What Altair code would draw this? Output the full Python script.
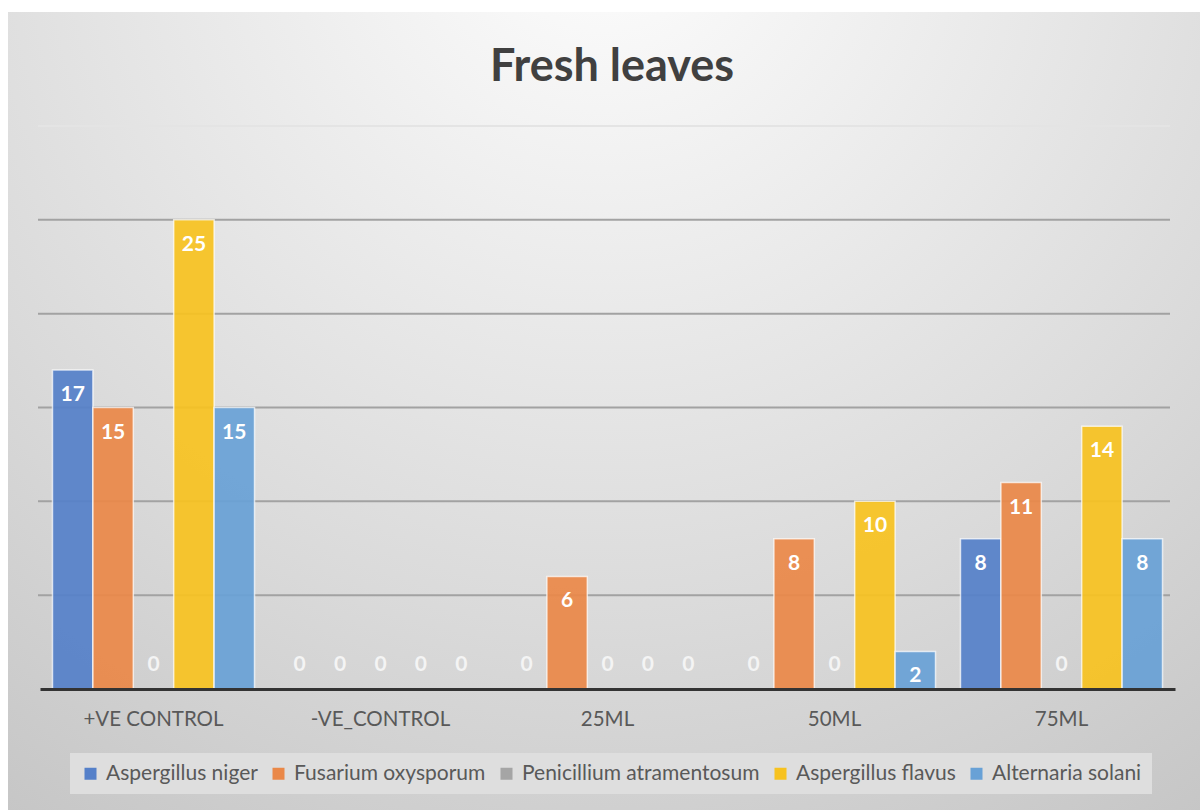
import altair as alt
import pandas as pd

title_text = ["Fresh leaves"]
categories = ["+VE CONTROL", "-VE_CONTROL", "25ML", "50ML", "75ML"]
series = ["Aspergillus niger", "Fusarium oxysporum", "Penicillium atramentosum",
          "Aspergillus flavus", "Alternaria solani"]
aspergillus_niger = [17, 0, 0, 0, 8]
fusarium_oxysporum = [15, 0, 6, 8, 11]
penicillium_atramentosum = [0, 0, 0, 0, 0]
aspergillus_flavus = [25, 0, 0, 10, 14]
alternaria_solani = [15, 0, 0, 2, 8]
grid_values = [5, 10, 15, 20, 25, 30]
colors = ["#5580C9", "#EA8848", "#A5A5A5", "#F7C21F", "#68A1D6"]

values = [aspergillus_niger, fusarium_oxysporum, penicillium_atramentosum,
          aspergillus_flavus, alternaria_solani]
rows = []
for s, vals in zip(series, values):
    for c, v in zip(categories, vals):
        rows.append({"category": c, "series": s, "value": v})
df = pd.DataFrame(rows)
grid_df = pd.DataFrame({"value": grid_values})

W, H = 1135, 563
PL, PT, PR, PB = 40, 126, 25, 121

xscale = alt.Scale(paddingInner=0.11, paddingOuter=0.055)
xaxis = alt.Axis(labelFontSize=20.5, labelColor="#595959", labelFont="Lato",
                 ticks=False, labelPadding=20, domainColor="#333333",
                 domainWidth=3, labelAngle=0, zindex=1, title=None)
xenc = alt.X("category:N", sort=categories, title=None, scale=xscale, axis=xaxis)
yenc = alt.Y("value:Q", scale=alt.Scale(domain=[0, 30], nice=False), axis=None)
xoff = alt.XOffset("series:N", sort=series, scale=alt.Scale(domain=series))

bg = alt.Chart(pd.DataFrame({"a": [0]})).mark_rect(
    color={
        "gradient": "radial",
        "x1": 0.5, "y1": 0.08, "r1": 0,
        "x2": 0.5, "y2": 0.08, "r2": 1.0,
        "stops": [
            {"offset": 0, "color": "#fefefe"},
            {"offset": 0.3, "color": "#ececec"},
            {"offset": 0.6, "color": "#dadada"},
            {"offset": 1, "color": "#c0c0c0"},
        ],
    },
).encode(
    x=alt.value(8 - PL), x2=alt.value(W + PR),
    y=alt.value(12 - PT), y2=alt.value(H + PB),
)

title = alt.Chart(pd.DataFrame({"t": title_text})).mark_text(
    font="Lato", fontWeight="bold", fontSize=45, color="#404040",
    baseline="alphabetic", align="center",
).encode(
    text="t:N", x=alt.value(572), y=alt.value(-45),
)

grid = alt.Chart(grid_df).mark_rule(strokeWidth=2).encode(
    y=yenc,
    x=alt.value(-2), x2=alt.value(W - 5),
    color=alt.condition("datum.value == 30", alt.value("#e4e4e4"), alt.value("#a2a2a2")),
)

bars = alt.Chart(df).transform_filter("datum.value > 0").mark_bar(
    stroke="white", strokeWidth=1.5, strokeOpacity=0.7, fillOpacity=0.92
).encode(
    x=xenc,
    xOffset=xoff,
    y=yenc,
    color=alt.Color("series:N", sort=series,
                    scale=alt.Scale(domain=series, range=colors),
                    legend=alt.Legend(
                        title=None, orient="none", direction="horizontal",
                        legendX=30, legendY=627,
                        symbolType="square", symbolSize=144, symbolStrokeWidth=0,
                        labelFontSize=21, labelFont="Lato", labelColor="#595959",
                        labelOffset=5, columnPadding=10, padding=10,
                        fillColor="#dedede", labelLimit=400,
                    )),
)

labels_pos = alt.Chart(df).transform_filter("datum.value > 0").mark_text(
    color="white", fontWeight="bold", font="Lato", fontSize=21, dy=25, baseline="middle"
).encode(
    x=xenc,
    xOffset=xoff,
    y=yenc,
    text=alt.Text("value:Q"),
)

labels_zero = alt.Chart(df).transform_filter("datum.value == 0").mark_text(
    color="#f4f4f4", fontWeight="bold", font="Lato", fontSize=21, dy=-24, baseline="middle"
).encode(
    x=xenc,
    xOffset=xoff,
    y=yenc,
    text=alt.Text("value:Q"),
)

chart = alt.layer(bg, title, grid, bars, labels_pos, labels_zero).properties(
    width=W, height=H,
    padding={"left": PL, "top": PT, "right": PR, "bottom": PB},
    autosize=alt.AutoSizeParams(type="none"),
).configure(background="white").configure_view(stroke=None)

chart.save("out.html", embed_options={"renderer": "svg", "actions": False})
